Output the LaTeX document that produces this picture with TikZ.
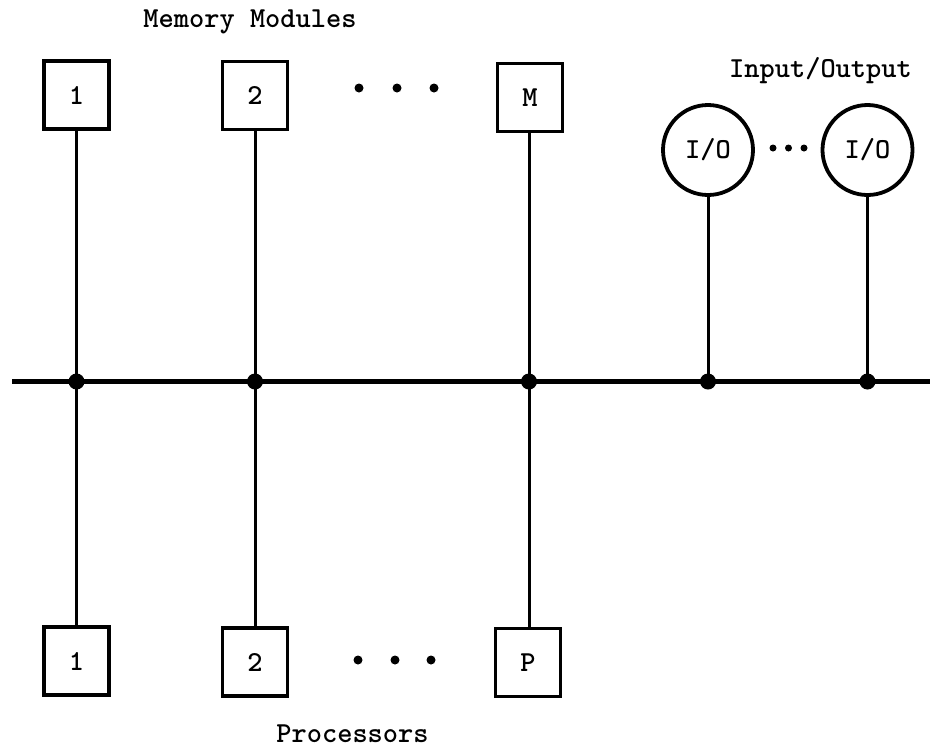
\documentclass[tikz,border=0pt]{standalone}
\usepackage{graphicx}
\newcommand\twtext[1]{{\ttfamily\bfseries\fontsize{29}{33}\selectfont #1}}
\begin{document}
\begin{tikzpicture}[x=1pt,y=-1pt,
  modbox/.style={draw,line width=3.8pt,minimum width=65pt,minimum height=68pt,inner sep=0pt},
  iocirc/.style={draw,circle,line width=3.8pt,minimum size=90pt,inner sep=0pt},
  junc/.style={circle,fill,inner sep=0pt,minimum size=16pt},
  edot/.style={circle,fill,inner sep=0pt,minimum size=9pt},
  sdot/.style={circle,fill,inner sep=0pt,minimum size=7pt},
  conn/.style={line width=3pt},
  bus/.style={line width=4.2pt},
  lbl/.style={inner sep=0pt,anchor=base}]
\useasboundingbox (0,0) rectangle (930,753);
% labels
\node[lbl] (tmem) at (250,27) {\twtext{Memory Modules}};
\node[lbl] (tio) at (820.5,77) {\twtext{Input/Output}};
\node[lbl] (tproc) at (352.5,742) {\twtext{Processors}};
% memory modules
\node[modbox] (m1) at (76.5,95) {\twtext{1}};
\node[modbox] (m2) at (255,95.5) {\twtext{2}};
\node[modbox] (mM) at (530,97.5) {\twtext{M}};
% processors
\node[modbox] (p1) at (76.5,661) {\twtext{1}};
\node[modbox] (p2) at (255,662) {\twtext{2}};
\node[modbox] (pP) at (528,662.5) {\twtext{P}};
% I/O
\node[iocirc] (io1) at (708,150) {\twtext{I/O}};
\node[iocirc] (io2) at (867.5,150) {\twtext{I/O}};
% ellipsis dots
\node[edot] (ed1) at (359,88) {};
\node[edot] (ed2) at (397,88) {};
\node[edot] (ed3) at (434,88) {};
\node[edot] (bd1) at (358,660) {};
\node[edot] (bd2) at (395,660) {};
\node[edot] (bd3) at (431,660) {};
\node[sdot] (id1) at (773,148) {};
\node[sdot] (id2) at (788.5,148) {};
\node[sdot] (id3) at (804,148) {};
% bus
\coordinate (busL) at (12,381.5);
\coordinate (busR) at (930,381.5);
\draw[bus] (busL) -- (busR);
\node[junc] (j1) at (76.5,381.5) {};
\node[junc] (j2) at (255,381.5) {};
\node[junc] (j3) at (529,381.5) {};
\node[junc] (j4) at (708,381.5) {};
\node[junc] (j5) at (867.5,381.5) {};
% connectors
\draw[conn] (m1.south) -- (j1.center) -- (p1.north);
\draw[conn] (m2.south) -- (j2.center) -- (p2.north);
\draw[conn] (mM.south -| j3) -- (j3.center) -- (pP.north -| j3);
\draw[conn] (io1.south) -- (j4.center);
\draw[conn] (io2.south) -- (j5.center);
\end{tikzpicture}
\end{document}
